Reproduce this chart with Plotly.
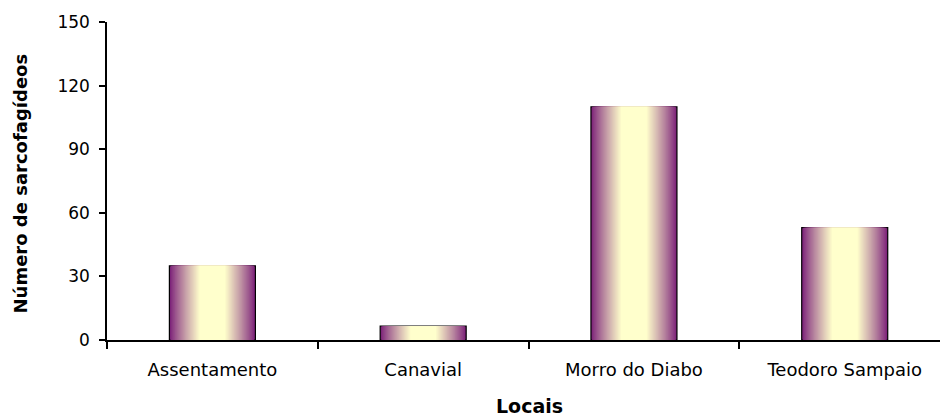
import plotly.graph_objects as go

# Data
categories = ["Assentamento", "Canavial", "Morro do Diabo", "Teodoro Sampaio"]
values = [35, 6.5, 110, 53]
y_ticks = [0, 30, 60, 90, 120, 150]
x_title = "Locais"
y_title = "Número de sarcofagídeos"

# Style
BAR_W = 0.408
PURPLE = (122, 30, 120)
CREAM = (255, 255, 204)
N_LAYERS = 28
PLATEAU = 0.30  # fraction of half-width that is solid cream


def mix(a, b, f):
    return "rgb(%d,%d,%d)" % tuple(round(a[i] + (b[i] - a[i]) * f) for i in range(3))


fig = go.Figure()
for k in range(N_LAYERS):
    t = 1 - k * (1 - PLATEAU) / (N_LAYERS - 1)   # half-width fraction
    f = (1 - t) / (1 - PLATEAU)
    f = min(max(f, 0), 1) ** 0.85
    fig.add_trace(go.Bar(
        x=categories, y=values, width=BAR_W * t,
        marker=dict(color=mix(PURPLE, CREAM, f),
                    line=dict(color="#000000", width=1.2 if k == 0 else 0)),
        showlegend=False, hoverinfo="skip",
    ))

fig.update_layout(
    width=940, height=416,
    margin=dict(l=107, r=0, t=22, b=76),
    barmode="overlay",
    paper_bgcolor="white", plot_bgcolor="white",
    font=dict(family="DejaVu Sans", color="#000000"),
    xaxis=dict(
        type="category", range=[-0.5, 3.452],
        showline=True, linecolor="#000000", linewidth=1.5,
        ticks="outside", tickson="boundaries", ticklen=7, tickcolor="#000000", tickwidth=1.5,
        tickfont=dict(family="DejaVu Sans", size=18, color="#000000"),
        ticklabelstandoff=13,
        showgrid=False, zeroline=False,
    ),
    yaxis=dict(
        range=[0, 150], tickvals=y_ticks,
        showline=True, linecolor="#000000", linewidth=1.5,
        ticks="outside", ticklen=6, tickcolor="#000000", tickwidth=1.5,
        tickfont=dict(family="DejaVu Sans", size=17, color="#000000"),
        ticklabelstandoff=6,
        showgrid=False, zeroline=False,
    ),
    annotations=[
        dict(text="<b>%s</b>" % x_title, xref="paper", yref="paper",
             x=(529.5 - 107) / 833, y=-(406 - 340) / 318,
             xanchor="center", yanchor="middle", showarrow=False,
             font=dict(family="DejaVu Sans", size=19, color="#000000")),
        dict(text="<b>%s</b>" % y_title, xref="paper", yref="paper",
             x=-(107 - 20) / 833, y=(340 - 183.5) / 318,
             xanchor="center", yanchor="middle", textangle=-90, showarrow=False,
             font=dict(family="DejaVu Sans", size=18, color="#000000")),
    ],
)

fig.write_html("out.html")
